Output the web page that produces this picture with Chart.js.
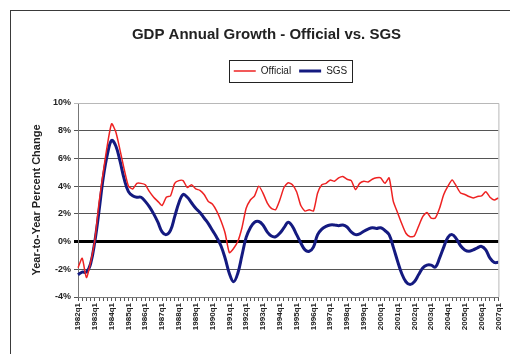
<!DOCTYPE html>
<html>
<head>
<meta charset="utf-8">
<script src="https://cdn.jsdelivr.net/npm/chart.js@4.4.1/dist/chart.umd.min.js"></script>
<style>
  html, body { margin: 0; padding: 0; background: #fff; overflow: hidden; }
  #wrap { position: relative; width: 510px; height: 354px; }
  #frame { position: absolute; left: 10px; top: 10px; width: 600px; height: 400px;
           border: 1px solid #3a3a3a; pointer-events: none; }
</style>
</head>
<body>
<div id="wrap">
  <canvas id="gdpChart" width="510" height="354"></canvas>
  <div id="frame"></div>
</div>
<script>
// Year-over-year GDP growth, quarterly, 1982q1 .. 2007q1
const years = [1982, 1983, 1984, 1985, 1986, 1987, 1988, 1989, 1990, 1991, 1992, 1993, 1994,
               1995, 1996, 1997, 1998, 1999, 2000, 2001, 2002, 2003, 2004, 2005, 2006, 2007];
const quarters = ['q1', 'q2', 'q3', 'q4'];

const official = [
    -1.9, -1.2, -2.6, -1.5, 0.1, 2.8, 5.0, 7.0, 8.5, 7.9,
    6.6, 5.2, 4.0, 3.8, 4.2, 4.2, 4.1, 3.6, 3.2, 2.9,
    2.6, 3.2, 3.3, 4.2, 4.4, 4.4, 3.9, 4.1, 3.8, 3.7,
    3.4, 2.9, 2.7, 2.2, 1.5, 0.6, -0.8, -0.5, 0.0, 1.0,
    2.4, 3.0, 3.3, 4.0, 3.5, 2.8, 2.4, 2.3, 3.0, 3.9,
    4.25, 4.1, 3.6, 2.6, 2.2, 2.3, 2.2, 3.5, 4.1, 4.2,
    4.45, 4.35, 4.6, 4.7, 4.5, 4.4, 3.75, 4.2, 4.35, 4.3,
    4.5, 4.6, 4.6, 4.2, 4.6, 2.9, 2.1, 1.3, 0.6, 0.35,
    0.4, 1.1, 1.8, 2.1, 1.7, 1.7, 2.4, 3.4, 4.0, 4.45,
    4.0, 3.5, 3.4, 3.25, 3.15, 3.25, 3.3, 3.6, 3.2, 3.0,
    3.15
];

const sgs = [
    -2.4, -2.2, -2.2, -1.6, 0.0, 2.2, 4.6, 6.3, 7.3, 6.9,
    5.8, 4.5, 3.6, 3.3, 3.2, 3.2, 2.9, 2.5, 2.0, 1.4,
    0.7, 0.5, 0.8, 1.8, 2.8, 3.4, 3.2, 2.8, 2.4, 2.1,
    1.7, 1.3, 0.8, 0.3, -0.3, -1.2, -2.3, -2.9, -2.3, -1.0,
    0.3, 1.0, 1.4, 1.45, 1.2, 0.7, 0.4, 0.35, 0.6, 1.0,
    1.4, 1.1, 0.5, -0.1, -0.6, -0.7, -0.4, 0.5, 0.9, 1.1,
    1.2, 1.2, 1.15, 1.2, 1.05, 0.7, 0.5, 0.55, 0.75, 0.9,
    1.0, 0.95, 1.0, 0.8, 0.5, -0.4, -1.4, -2.3, -2.9, -3.1,
    -2.9, -2.4, -1.9, -1.7, -1.7, -1.85, -1.2, -0.4, 0.3, 0.5,
    0.2, -0.3, -0.6, -0.7, -0.6, -0.45, -0.35, -0.6, -1.2, -1.5,
    -1.5
];

// Build quarter labels; the series stops at 2007q1
const labels = [];
years.forEach(year => {
    quarters.forEach(q => {
        if (labels.length < official.length) labels.push(year + q);
    });
});

const FONT = "'Liberation Sans', Arial, sans-serif";
const LEGEND_SHIFT = 24;   // legend sits right of centre in the original
const LEGEND_EXTRA = 17;   // gap between legend and plot

// Legend placement tweaks, legend box and plot area border
const framePlugin = {
    id: 'framePlugin',
    afterInit(chart) {
        const legend = chart.legend;
        const origFit = legend.fit;
        legend.fit = function() {
            origFit.call(this);
            this.height += LEGEND_EXTRA;
        };
    },
    afterUpdate(chart) {
        const legend = chart.legend;
        legend.left += LEGEND_SHIFT;
        legend.right += LEGEND_SHIFT;
        legend.legendHitBoxes.forEach(h => { h.left += LEGEND_SHIFT; });
    },
    afterDraw(chart) {
        const ctx = chart.ctx;
        const area = chart.chartArea;
        ctx.save();
        ctx.strokeStyle = '#b8b8b8';
        ctx.lineWidth = 1;
        ctx.beginPath();
        ctx.moveTo(area.left, area.top + 0.5);
        ctx.lineTo(area.right + 0.5, area.top + 0.5);
        ctx.lineTo(area.right + 0.5, area.bottom);
        ctx.stroke();

        const boxes = chart.legend.legendHitBoxes;
        if (boxes && boxes.length) {
            let l = Infinity, t = Infinity, r = -Infinity, b = -Infinity;
            boxes.forEach(h => {
                l = Math.min(l, h.left); t = Math.min(t, h.top);
                r = Math.max(r, h.left + h.width); b = Math.max(b, h.top + h.height);
            });
            ctx.strokeStyle = '#222';
            ctx.strokeRect(Math.round(l - 5) + 0.5, Math.round(t - 6) + 0.5,
                           Math.round(r - l + 10), Math.round(b - t + 12));
        }
        ctx.restore();
    }
};

new Chart(document.getElementById('gdpChart').getContext('2d'), {
    type: 'line',
    data: {
        labels: labels,
        datasets: [
            {
                label: 'Official',
                data: official,
                borderColor: '#ee2222',
                backgroundColor: '#ee2222',
                borderWidth: 1.5,
                pointRadius: 0,
                tension: 0.2
            },
            {
                label: 'SGS',
                data: sgs,
                borderColor: '#141a80',
                backgroundColor: '#141a80',
                borderWidth: 3,
                pointRadius: 0,
                tension: 0.4
            }
        ]
    },
    options: {
        responsive: false,
        animation: false,
        layout: { padding: { left: 23, right: 0, top: 0, bottom: 16 } },
        plugins: {
            title: {
                display: true,
                text: 'GDP Annual Growth - Official vs. SGS',
                color: '#222',
                font: { family: FONT, size: 15, weight: 'bold' },
                padding: { top: 26, bottom: 14 }
            },
            legend: {
                position: 'top',
                labels: {
                    color: '#222',
                    font: { family: FONT, size: 10 },
                    usePointStyle: true,
                    pointStyle: 'line',
                    pointStyleWidth: 22,
                    boxHeight: 10,
                    padding: 8
                }
            },
            tooltip: { enabled: false }
        },
        scales: {
            x: {
                type: 'category',
                grid: {
                    display: true,
                    drawOnChartArea: false,
                    drawTicks: true,
                    tickLength: 4,
                    color: '#555'
                },
                border: { display: true, color: '#777' },
                ticks: {
                    autoSkip: false,
                    maxRotation: 90,
                    minRotation: 90,
                    padding: 2,
                    color: '#222',
                    font: { family: FONT, size: 8, weight: 'bold' },
                    callback: function(value, index) {
                        return index % 4 === 0 ? labels[index] : '';
                    }
                },
                afterFit: function(scale) { scale.height = 41; }
            },
            y: {
                min: -4,
                max: 10,
                ticks: {
                    stepSize: 2,
                    padding: 3,
                    color: '#222',
                    font: { family: FONT, size: 9, weight: 'bold' },
                    callback: value => value + '%'
                },
                grid: {
                    drawTicks: true,
                    tickLength: 4,
                    color: ctx => {
                        if (ctx.tick.value === 0) return '#000';
                        if (ctx.tick.value === 10) return '#b8b8b8';
                        return '#555';
                    },
                    lineWidth: ctx => ctx.tick.value === 0 ? 3 : 1
                },
                border: { display: true, color: '#777' },
                title: {
                    display: true,
                    text: 'Year-to-Year Percent Change',
                    color: '#222',
                    font: { family: FONT, size: 11, weight: 'bold' },
                    padding: { top: 7, bottom: 5 }
                },
                afterFit: function(scale) { scale.width = 55; }
            }
        }
    },
    plugins: [framePlugin]
});
</script>
</body>
</html>
